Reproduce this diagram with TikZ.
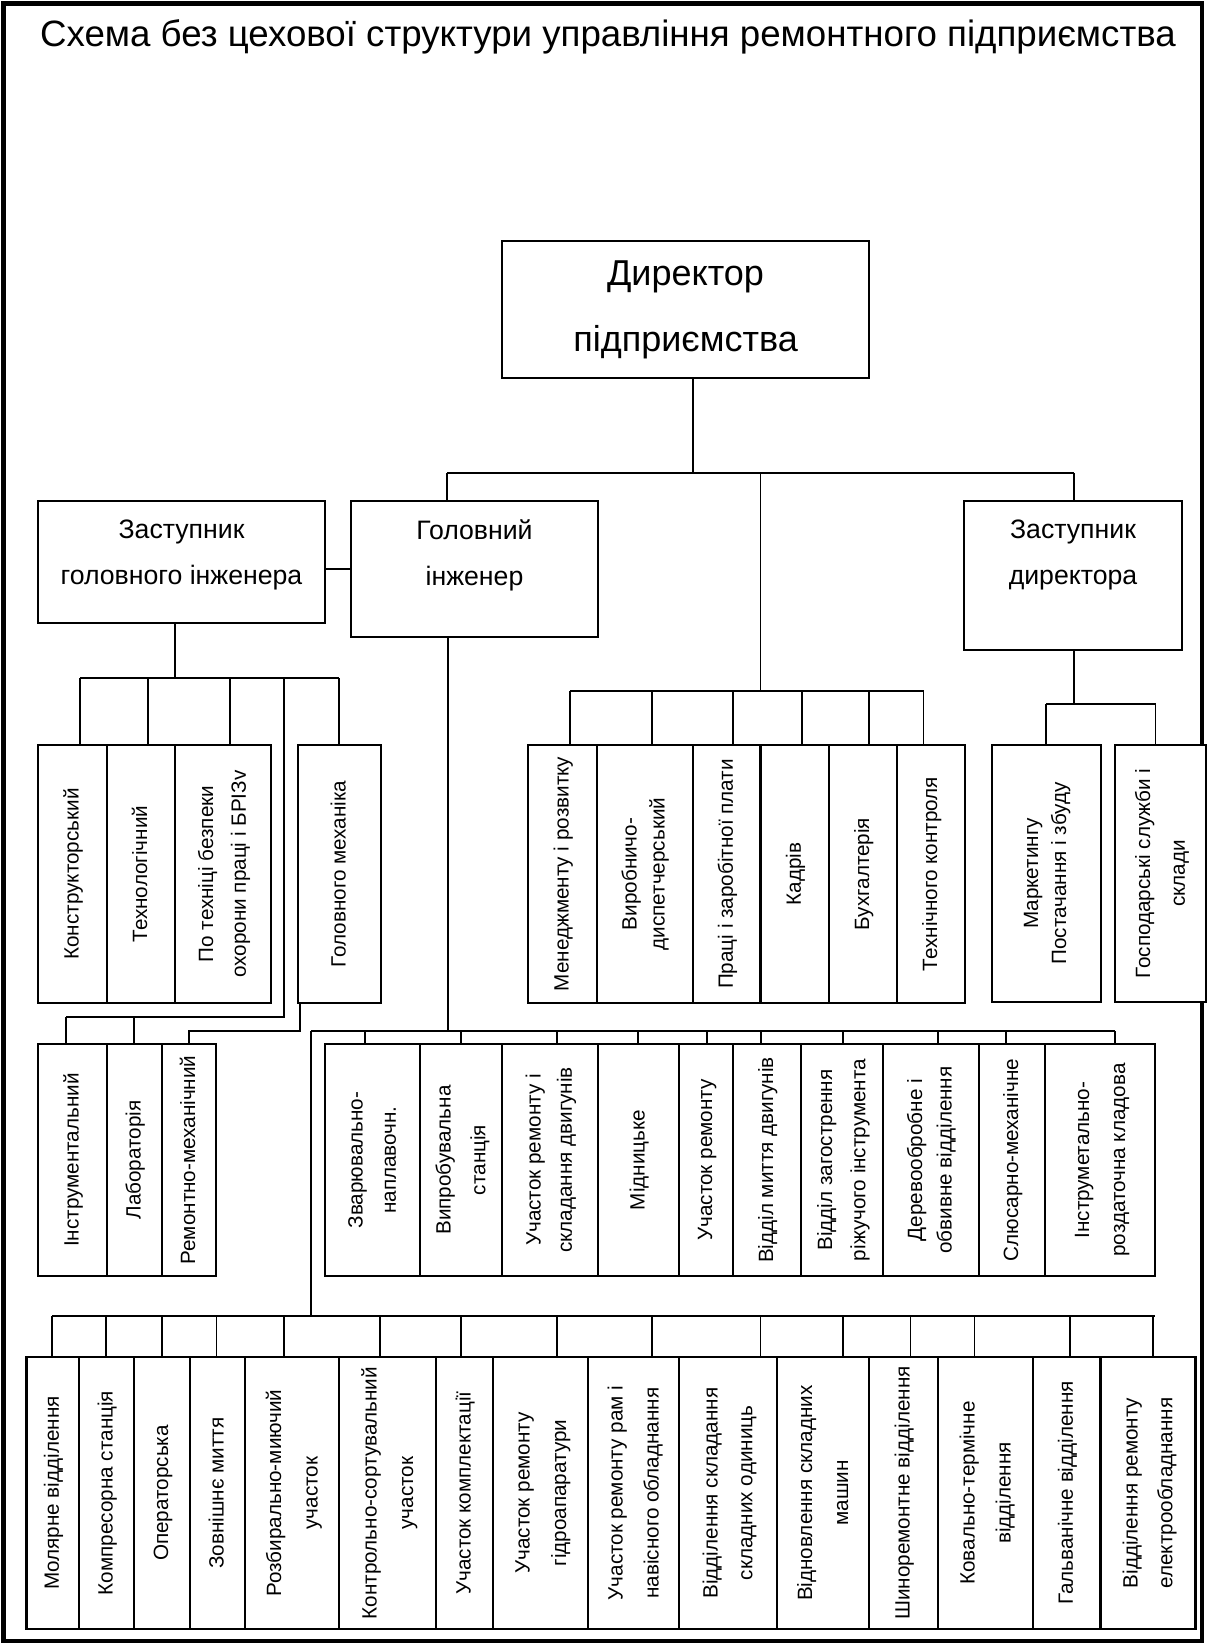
\documentclass[tikz,border=0pt]{standalone}
\usepackage{fontspec}
\setmainfont{Liberation Sans}
\usepackage{graphicx}

\tikzset{
  box/.style={draw, rectangle, line width=2.2pt, fill=white, inner sep=0pt},
  conn/.style={line width=1pt},
  frame/.style={line width=3.4pt},
  midtext/.style={font=\fontsize{20pt}{34.5pt}\selectfont, align=center, inner sep=0pt},
}

% vertical box: [baselineskip]{name}{x1}{x2}{y1}{y2}{text}
\newcommand\vbx[7][23]{%
  \node[box, minimum width={(#4-#3)*0.75pt}, minimum height={(#6-#5)*0.75pt}]
    (#2) at ({(#3+#4)/2},{(#5+#6)/2})
    {\rotatebox{90}{\fontsize{15.5pt}{#1pt}\selectfont
      \begin{tabular}{@{}c@{}}#7\end{tabular}}};}

\begin{document}
\begin{tikzpicture}[x=0.75pt,y=-0.75pt]
\useasboundingbox (0,0) rectangle (1208,1645);

% outer frame
\draw[frame] (3.5,3.5) rectangle (1202,1641);

\node[font=\fontsize{27.5pt}{32pt}\selectfont] (title) at (608,37)
  {Схема без цехової структури управління ремонтного підприємства};

% management level
\node[box, minimum width={367*0.75pt}, minimum height={137*0.75pt}, align=center,
  font=\fontsize{27pt}{49.5pt}\selectfont] (dir) at (685.5,309.5) {Директор\\підприємства};

\node[box, minimum width={287*0.75pt}, minimum height={122*0.75pt},
  label={[midtext,yshift=5.25pt]center:{Заступник\\головного інженера}}] (zgi) at (181.5,562) {};
\node[box, minimum width={247*0.75pt}, minimum height={136*0.75pt},
  label={[midtext,yshift=10.5pt]center:{Головний\\інженер}}] (gi) at (474.5,569) {};
\node[box, minimum width={218*0.75pt}, minimum height={149*0.75pt},
  label={[midtext,yshift=15.4pt]center:{Заступник\\директора}}] (zd) at (1073,575.5) {};

% departments under the deputy chief engineer
\vbx{eng1}{38}{107}{745}{1003}{Конструкторський}
\vbx{eng2}{107}{175}{745}{1003}{Технологічний}
\vbx[24.5]{eng3}{175}{271}{745}{1003}{По техніці безпеки\\охорони праці і БРІЗv}
\vbx{eng4}{298}{381}{745}{1003}{Головного механіка}

\vbx{low1}{38}{107}{1044}{1276}{Інструментальний}
\vbx{low2}{107}{162}{1044}{1276}{Лабораторія}
\vbx{low3}{162}{216}{1044}{1276}{Ремонтно-механічний}

% departments under the director
\vbx{dep1}{528}{597}{745}{1003}{Менеджменту і розвитку}
\vbx[21]{dep2}{597}{693}{745}{1003}{Виробничо-\\диспетчерський}
\vbx{dep3}{693}{760.5}{745}{1003}{Праці і заробітної плати}
\vbx{dep4}{760.5}{829}{745}{1003}{Кадрів}
\vbx{dep5}{829}{897}{745}{1003}{Бухгалтерія}
\vbx{dep6}{897}{965}{745}{1003}{Технічного контроля}

\vbx[21]{mk}{992}{1101}{745}{1002}{Маркетингу\\Постачання і збуду}
\vbx[26]{gos}{1115}{1206}{745}{1002}{Господарські служби і\\склади}

% production sections, upper row
\vbx[25]{mid1}{325}{420}{1044}{1276}{Зварювально-\\наплавочн.}
\vbx[26]{mid2}{420}{502}{1044}{1276}{Випробувальна\\станція}
\vbx[23.5]{mid3}{502}{598}{1044}{1276}{Участок ремонту і\\складання двигунів}
\vbx{mid4}{598}{679}{1044}{1276}{Мідницьке}
\vbx{mid5}{679}{733}{1044}{1276}{Участок ремонту}
\vbx{mid6}{733}{801}{1044}{1276}{Відділ миття двигунів}
\vbx[25]{mid7}{801}{883}{1044}{1276}{Відділ загострення\\ріжучого інструмента}
\vbx[22]{mid8}{883}{979}{1044}{1276}{Деревообробне і\\обвивне відділення}
\vbx{mid9}{979}{1045}{1044}{1276}{Слюсарно-механічне}
\vbx[27]{mid10}{1045}{1155}{1044}{1276}{Інструметально-\\роздаточна кладова}

% production sections, lower row
\vbx{bot1}{26.5}{79}{1357}{1629}{Молярне відділення}
\vbx{bot2}{79}{134}{1357}{1629}{Компресорна станція}
\vbx{bot3}{134}{190}{1357}{1629}{Операторська}
\vbx{bot4}{190}{245}{1357}{1629}{Зовнішнє миття}
\vbx[27.5]{bot5}{245}{339}{1357}{1629}{Розбирально-миючий\\участок}
\vbx[27.5]{bot6}{339}{436}{1357}{1629}{Контрольно-сортувальний\\участок}
\vbx{bot7}{436}{493}{1357}{1629}{Участок комплектації}
\vbx[27.5]{bot8}{493}{588}{1357}{1629}{Участок ремонту\\гідроапаратури}
\vbx[27]{bot9}{588}{679}{1357}{1629}{Участок ремонту рам і\\навісного обладнання}
\vbx[26]{bot10}{679}{777}{1357}{1629}{Відділення складання\\складних одиниць}
\vbx[27]{bot11}{777}{869}{1357}{1629}{Відновлення складних\\машин}
\vbx{bot12}{869}{938}{1357}{1629}{Шиноремонтне відділення}
\vbx[27]{bot13}{938}{1033}{1357}{1629}{Ковально-термічне\\відділення}
\vbx{bot14}{1033}{1100.5}{1357}{1629}{Гальванічне відділення}
\vbx[26]{bot15}{1100.5}{1195.5}{1357}{1629}{Відділення ремонту\\електрообладнання}

% director bus
\coordinate (dbS) at (693,473);
\coordinate (dbL) at (447,473);
\coordinate (dbR) at (1074,473);
\coordinate (dbM) at (760.5,473);
\coordinate (depBus) at (760.5,691);
\draw[conn] (dbS |- dir.south) -- (dbS);
\draw[conn] (dbL) -- (dbR);
\draw[conn] (dbL) -- (dbL |- gi.north);
\draw[conn] (dbR) -- (dbR |- zd.north);
\draw[conn] (dbM) -- (depBus);

% link between deputy and chief engineer
\coordinate (lnk) at (0,569);
\draw[conn] (zgi.east |- lnk) -- (gi.west |- lnk);

% deputy chief engineer branches
\coordinate (zs) at (175,678);
\coordinate (zL) at (80,678);
\coordinate (zR) at (339,678);
\draw[conn] (zs |- zgi.south) -- (zs);
\draw[conn] (zL) -- (zR);
\foreach \x [count=\i] in {80,148,230,339} {
  \coordinate (ze\i) at (\x,678);
  \draw[conn] (ze\i) -- (ze\i |- eng\i.north);
}
\coordinate (pA) at (284,678);
\coordinate (pB) at (284,1017);
\coordinate (pC) at (66,1017);
\draw[conn] (pA) -- (pB) -- (pC);
\foreach \x [count=\i] in {66,134} {
  \coordinate (le\i) at (\x,1017);
  \draw[conn] (le\i) -- (le\i |- low\i.north);
}
\coordinate (mA) at (300,1031);
\coordinate (mB) at (189,1031);
\draw[conn] (mA |- eng4.south) -- (mA) -- (mB) -- (mB |- low3.north);

% director departments
\coordinate (dL) at (570,691);
\coordinate (dR) at (923.5,691);
\draw[conn] (dL) -- (dR);
\foreach \x [count=\i] in {570,652,733,802,869,923.5} {
  \coordinate (dd\i) at (\x,691);
  \draw[conn] (dd\i) -- (dd\i |- dep\i.north);
}

% deputy director branches
\coordinate (zds) at (1074,704);
\coordinate (zdL) at (1046,704);
\coordinate (zdR) at (1155.5,704);
\draw[conn] (zds |- zd.south) -- (zds);
\draw[conn] (zdL) -- (zdR);
\draw[conn] (zdL) -- (zdL |- mk.north);
\draw[conn] (zdR) -- (zdR |- gos.north);

% chief engineer branches
\coordinate (gs) at (448,1031);
\coordinate (gL) at (311,1031);
\coordinate (gR) at (1115,1031);
\coordinate (gD) at (311,1316);
\coordinate (bL) at (52,1316);
\coordinate (bR) at (1155,1316);
\draw[conn] (gs |- gi.south) -- (gs);
\draw[conn] (gL) -- (gR);
\draw[conn] (gL) -- (gD);
\draw[conn] (bL) -- (bR);
\foreach \x [count=\i] in {365,461,557,638,707,761,843,938,1006,1115} {
  \coordinate (gm\i) at (\x,1031);
  \draw[conn] (gm\i) -- (gm\i |- mid\i.north);
}
\foreach \x [count=\i] in {52,106,162,216.5,284,380,461,557,652,760.5,843,910.5,974.5,1070,1153} {
  \coordinate (gb\i) at (\x,1316);
  \draw[conn] (gb\i) -- (gb\i |- bot\i.north);
}
\end{tikzpicture}
\end{document}
